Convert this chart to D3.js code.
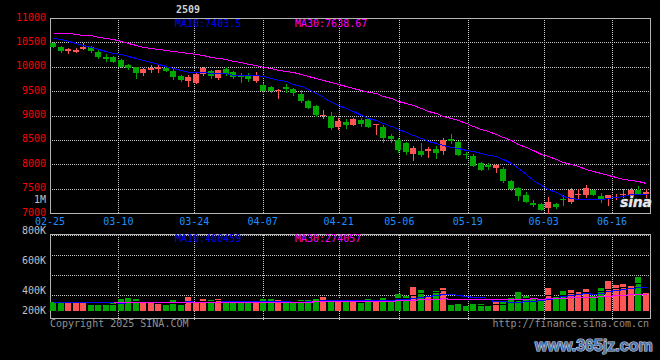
<!DOCTYPE html>
<html><head><meta charset="utf-8">
<script src="https://cdn.jsdelivr.net/npm/d3@7"></script>
<style>body{margin:0;background:#000}svg{display:block}</style>
</head><body>
<svg id="c" width="660" height="360"></svg>
<script>
const title = "2509";
const dates = ["02-25","02-26","02-27","02-28","03-03","03-04","03-05","03-06","03-07","03-10","03-11","03-12","03-13","03-14","03-17","03-18","03-19","03-20","03-21","03-24","03-25","03-26","03-27","03-28","03-31","04-01","04-02","04-03","04-07","04-08","04-09","04-10","04-11","04-14","04-15","04-16","04-17","04-18","04-21","04-22","04-23","04-24","04-25","04-28","04-29","04-30","05-06","05-07","05-08","05-09","05-12","05-13","05-14","05-15","05-16","05-19","05-20","05-21","05-22","05-23","05-26","05-27","05-28","05-29","05-30","06-03","06-04","06-05","06-06","06-09","06-10","06-11","06-12","06-13","06-16","06-17","06-18","06-19","06-20","06-23"];
const tickDates = ["02-25","03-10","03-24","04-07","04-21","05-06","05-19","06-03","06-16"];
const open  = [10490,10410,10320,10310,10370,10410,10300,10210,10190,10140,10040,9990,9870,9930,9950,9980,9910,9810,9710,9670,9850,9910,9760,9950,9900,9830,9830,9710,9630,9580,9500,9580,9540,9440,9300,9190,8980,9000,8770,8870,8810,8910,8930,8800,8770,8580,8500,8430,8220,8280,8280,8310,8280,8510,8460,8220,8170,8030,7980,7920,7900,7660,7520,7370,7200,7180,7100,7180,7280,7230,7370,7370,7470,7350,7300,7310,7380,7350,7470,7400];
const high  = [10510,10430,10390,10390,10490,10430,10340,10260,10220,10160,10060,10000,9970,10040,10040,10000,9950,9830,9830,9870,10000,9930,9930,10000,9920,9880,9880,9900,9670,9600,9550,9650,9560,9520,9320,9220,9110,9070,8940,8930,8940,8940,8950,8830,8810,8620,8530,8460,8370,8430,8360,8370,8530,8620,8480,8260,8210,8050,8020,7980,7950,7680,7540,7440,7270,7200,7330,7210,7370,7510,7490,7570,7470,7420,7370,7400,7490,7520,7550,7490];
const low   = [10400,10300,10280,10300,10360,10300,10170,10120,10100,10000,9950,9770,9830,9900,9900,9910,9740,9710,9600,9660,9830,9760,9740,9830,9760,9690,9710,9690,9490,9490,9360,9490,9420,9280,9150,8990,8940,8720,8720,8740,8810,8780,8760,8630,8460,8460,8260,8210,8090,8170,8150,8120,8220,8430,8190,8120,7960,7880,7900,7850,7640,7470,7270,7230,7140,7055,7005,7100,7160,7200,7280,7330,7370,7230,7160,7280,7330,7330,7400,7330];
const close = [10410,10320,10360,10340,10410,10330,10190,10150,10100,10000,9980,9880,9950,9970,10000,9920,9780,9730,9780,9850,9970,9810,9930,9850,9780,9780,9740,9810,9510,9510,9520,9550,9460,9300,9160,9010,9020,8740,8890,8810,8930,8830,8770,8830,8530,8510,8290,8260,8330,8190,8310,8240,8500,8480,8190,8190,7970,7890,7950,7980,7660,7490,7350,7230,7160,7060,7230,7130,7270,7470,7400,7510,7370,7270,7370,7330,7400,7470,7400,7440];
const ma10  = [10580,10560,10520,10490,10450,10410,10370,10330,10290,10261,10218,10174,10133,10096,10055,10014,9973,9931,9899,9884,9883,9876,9874,9862,9840,9826,9822,9830,9803,9769,9724,9698,9651,9596,9534,9457,9385,9278,9216,9146,9087,9015,8946,8899,8836,8786,8713,8665,8609,8547,8485,8426,8399,8364,8330,8298,8266,8229,8191,8170,8105,8030,7915,7790,7687,7574,7500,7424,7356,7305,7279,7281,7283,7287,7308,7335,7352,7386,7399,7396];
const ma30  = [10686,10686,10684,10675,10660,10642,10615,10585,10560,10530,10495,10455,10410,10385,10365,10345,10320,10300,10285,10270,10235,10200,10170,10150,10125,10100,10065,10030,10000,9971,9942,9916,9886,9851,9810,9766,9727,9680,9639,9600,9565,9530,9490,9452,9403,9356,9307,9258,9209,9154,9099,9046,8999,8953,8900,8847,8788,8724,8672,8621,8559,8490,8420,8351,8284,8219,8160,8106,8052,8007,7956,7912,7866,7814,7775,7736,7706,7680,7649,7624];
const volume = [161,161,161,133,133,104,104,121,133,208,225,208,133,144,121,104,190,104,242,133,208,190,208,190,144,144,133,133,208,208,190,144,144,190,190,208,242,168,190,208,190,144,208,190,225,190,294,260,420,363,265,346,398,104,121,87,121,121,87,161,161,225,329,260,225,190,398,248,346,363,346,381,260,398,519,450,467,450,583,317].map(v => v * 1000);
const volMa5  = [155,155,155,155,150,138,127,119,119,134,158,179,181,184,166,142,138,133,152,155,175,175,196,186,188,175,164,149,152,165,174,177,179,175,172,175,195,200,200,203,200,180,188,188,191,191,221,232,278,305,320,331,358,295,247,211,166,111,107,115,130,151,193,227,240,246,280,264,281,309,340,337,339,350,381,402,419,457,494,453].map(v => v * 1000);
const volMa10 = [160,160,160,160,160,160,160,160,160,142,148,153,150,151,150,150,159,157,168,160,159,157,164,169,171,175,170,173,169,177,175,170,164,164,168,175,186,189,187,187,187,187,194,194,197,196,201,210,233,248,256,276,295,287,276,266,249,235,201,181,171,159,152,167,178,188,216,228,254,275,293,309,302,316,345,371,378,398,422,417].map(v => v * 1000);
const volMa30 = [null,null,null,null,null,null,null,null,152,152,152,153,153,153,154,154,155,155,155,156,156,157,157,158,158,158,159,159,160,160,161,160,159,161,163,167,171,173,175,175,174,172,174,176,179,182,185,191,196,204,206,211,218,215,214,212,212,211,207,206,205,207,214,216,217,216,222,224,230,235,240,248,250,256,266,275,281,287,292,291].map(v => v == null ? null : v * 1000);
const priceTicks = [11000,10500,10000,9500,9000,8500,8000,7500,7000];
const volTickLabels = ["800K","600K","400K","200K"];
const priceLegend = ["MA10:7403.5", "MA30:7638.67"];
const volLegend = ["MA10:400459", "MA30:274057"];
const unitLabel = "1M";
const footLeft = "Copyright 2025 SINA.COM";
const footRight = "http://finance.sina.com.cn";
const watermark = "www.365jz.com";

const W = 660, H = 360, L = 50, R = 650;
const pTop = 18, pBot = 213, vTop = 235, vBot = 318, vBase = 311;
const UP = "#ff5555", DOWN = "#00a800", GRID = "#c8c8c8", BORDER = "#b4b4b4";
const MONO = "'DejaVu Sans Mono', 'Liberation Mono', monospace";

const svg = d3.select("#c");
svg.append("rect").attr("width", W).attr("height", H).attr("fill", "#000");

const x = d3.scaleBand().domain(dates).range([L, R]).paddingInner(0.2).paddingOuter(0.1).align(0);
const xGrid = d3.scaleLinear().domain([0, dates.length - 1]).range([L, R]);
const y = d3.scaleLinear().domain([7000, 11000]).range([pBot, pTop]);
const yv = d3.scaleLinear().domain([0, 1300000]).range([vBase, 236]);
const volGrid = d3.scaleLinear().domain([0, 4]).range([vTop, vTop + 80]);
const volLabelY = d3.scaleLinear().domain([0, 3]).range([vTop - 1, vTop + 89]);

const bx = d => Math.round(x(d));
const cxi = i => bx(dates[i]) + 3;
const tickIdx = tickDates.map(t => dates.indexOf(t));

// grid
const g = svg.append("g").attr("shape-rendering", "crispEdges");
g.selectAll(".hg").data(priceTicks.filter(t => t > 7000 && t < 11000)).join("line")
  .attr("x1", L).attr("x2", R).attr("y1", t => Math.round(y(t)) + 0.5).attr("y2", t => Math.round(y(t)) + 0.5)
  .attr("stroke", GRID).attr("stroke-dasharray", "1,1");
g.selectAll(".vg").data(tickIdx.filter(i => i > 0)).join("line")
  .attr("x1", i => Math.round(xGrid(i)) + 0.5).attr("x2", i => Math.round(xGrid(i)) + 0.5)
  .attr("y1", pTop).attr("y2", pBot).attr("stroke", GRID).attr("stroke-dasharray", "1,1");
g.selectAll(".hv").data([0, 1, 2, 3]).join("line")
  .attr("x1", L).attr("x2", R).attr("y1", k => volGrid(k) + 0.5).attr("y2", k => volGrid(k) + 0.5)
  .attr("stroke", GRID).attr("stroke-dasharray", "1,1");
g.selectAll(".vv").data(tickIdx.filter(i => i > 0)).join("line")
  .attr("x1", i => Math.round(xGrid(i)) + 0.5).attr("x2", i => Math.round(xGrid(i)) + 0.5)
  .attr("y1", vTop).attr("y2", vBot + 2).attr("stroke", GRID).attr("stroke-dasharray", "1,1");

// borders
g.append("rect").attr("x", L + 0.5).attr("y", pTop + 0.5).attr("width", R - L).attr("height", pBot - pTop)
  .attr("fill", "none").attr("stroke", BORDER);
g.append("rect").attr("x", L + 0.5).attr("y", vTop - 0.5).attr("width", R - L).attr("height", vBot - vTop + 1)
  .attr("fill", "none").attr("stroke", BORDER);

// candles
const idx = d3.range(dates.length);
const cg = svg.append("g").attr("shape-rendering", "crispEdges");
const col = i => close[i] >= open[i] ? UP : DOWN;
cg.selectAll(".wick").data(idx).join("line")
  .attr("x1", i => cxi(i) + 0.5).attr("x2", i => cxi(i) + 0.5)
  .attr("y1", i => Math.round(y(high[i]))).attr("y2", i => Math.round(y(low[i])) + 1)
  .attr("stroke", col);
cg.selectAll(".body").data(idx).join("rect")
  .attr("x", i => bx(dates[i])).attr("width", 6)
  .attr("y", i => Math.round(y(Math.max(open[i], close[i]))))
  .attr("height", i => Math.max(1, Math.round(y(Math.min(open[i], close[i]))) - Math.round(y(Math.max(open[i], close[i])))))
  .attr("fill", col);

// price MA lines
const pl = d3.line().defined(v => v != null).x((v, i) => cxi(i) + 0.5).y(v => Math.round(y(v)) + 0.5);
svg.append("path").attr("d", pl(ma10)).attr("fill", "none").attr("stroke", "#0000ff").attr("shape-rendering", "crispEdges");
svg.append("path").attr("d", pl(ma30)).attr("fill", "none").attr("stroke", "#ff00ff").attr("shape-rendering", "crispEdges");

// volume bars
cg.selectAll(".vol").data(idx).join("rect")
  .attr("x", i => bx(dates[i])).attr("width", 6)
  .attr("y", i => Math.round(yv(volume[i])))
  .attr("height", i => vBase - Math.round(yv(volume[i])))
  .attr("fill", col);

const vl = d3.line().defined(v => v != null).curve(d3.curveStep).x((v, i) => cxi(i) + 0.5).y(v => Math.round(yv(v)) + 0.5);
svg.append("path").attr("d", vl(volMa5)).attr("fill", "none").attr("stroke", "#000").attr("shape-rendering", "crispEdges");
svg.append("path").attr("d", vl(volMa10)).attr("fill", "none").attr("stroke", "#0000ff").attr("shape-rendering", "crispEdges");
svg.append("path").attr("d", vl(volMa30)).attr("fill", "none").attr("stroke", "#ff00ff").attr("shape-rendering", "crispEdges");

// texts
const t = svg.append("g").attr("font-family", MONO).attr("font-size", 10);
t.selectAll(".pl").data(priceTicks).join("text")
  .attr("x", 46).attr("y", v => y(v) + 2.5).attr("text-anchor", "end").attr("fill", "#ff0000").text(v => v);
t.append("text").attr("x", 46).attr("y", 203).attr("text-anchor", "end").attr("fill", "#c0c0c0").text(unitLabel);
t.selectAll(".vl").data(volTickLabels).join("text")
  .attr("x", 46).attr("y", (s, k) => Math.min(volLabelY(k), vBot - 4)).attr("text-anchor", "end").attr("fill", "#c0c0c0").text(s => s);
t.selectAll(".dl").data(tickIdx).join("text")
  .attr("x", i => xGrid(i)).attr("y", 225).attr("text-anchor", "middle").attr("fill", "#1e90ff").text(i => dates[i]);
t.append("text").attr("x", 175).attr("y", 27).attr("fill", "#0000ff").text(priceLegend[0]);
t.append("text").attr("x", 295).attr("y", 27).attr("fill", "#ff00ff").text(priceLegend[1]);
t.append("text").attr("x", 175).attr("y", 242).attr("fill", "#0000ff").text(volLegend[0]);
t.append("text").attr("x", 295).attr("y", 242).attr("fill", "#ff00ff").text(volLegend[1]);
t.append("text").attr("x", 188).attr("y", 13).attr("text-anchor", "middle").attr("fill", "#d0d0d0").attr("font-weight", "bold").text(title);
t.append("text").attr("x", 50).attr("y", 327).attr("fill", "#909090").text(footLeft);
t.append("text").attr("x", 649).attr("y", 327).attr("text-anchor", "end").attr("fill", "#909090").text(footRight);

// logo + watermark
svg.append("text").attr("x", 620).attr("y", 207).attr("font-family", "'DejaVu Sans', sans-serif")
  .attr("font-size", 14).attr("font-weight", "bold").attr("font-style", "italic")
  .attr("fill", "#e8e8e8").attr("stroke", "#808080").attr("stroke-width", 0.6).attr("paint-order", "stroke")
  .attr("textLength", 32).text("sina");
svg.append("text").attr("x", 535).attr("y", 351).attr("font-family", "'Liberation Sans', Arial, sans-serif")
  .attr("font-size", 16).attr("font-weight", "bold")
  .attr("fill", "#4f74a8").attr("stroke", "#d0d8e6").attr("stroke-width", 1.2).attr("paint-order", "stroke")
  .text(watermark);
</script>
</body></html>
